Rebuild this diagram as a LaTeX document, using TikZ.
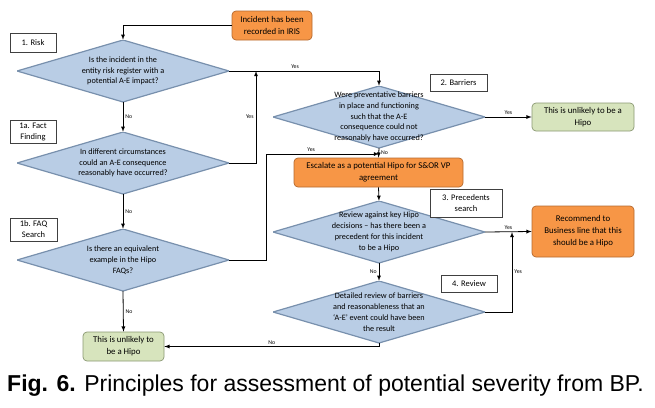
\documentclass[tikz,border=0pt]{standalone}
\usepackage{fontspec}
\setmainfont{Carlito}
\newfontfamily\capfont{Liberation Sans}
\usetikzlibrary{positioning}

\definecolor{diafill}{HTML}{B9CDE5}
\definecolor{diaedge}{HTML}{7890AD}
\definecolor{orfill}{HTML}{F79646}
\definecolor{oredge}{HTML}{B4692F}
\definecolor{grfill}{HTML}{D7E4BD}
\definecolor{gredge}{HTML}{8A9872}

\tikzset{
  dia/.style={rectangle, minimum width=212pt, minimum height=62pt, inner sep=0pt,
    align=center, font=\fontsize{8.2}{10.8}\selectfont,
    path picture={
      \fill[diafill] (path picture bounding box.north) -- (path picture bounding box.east)
        -- (path picture bounding box.south) -- (path picture bounding box.west) -- cycle;
      \draw[diaedge, line width=1.2pt] (path picture bounding box.north) -- (path picture bounding box.east)
        -- (path picture bounding box.south) -- (path picture bounding box.west) -- cycle;
    }},
  orbox/.style={rectangle, rounded corners=4pt, draw=oredge, fill=orfill, line width=0.7pt,
    align=center, inner sep=1pt, font=\fontsize{8.8}{12}\selectfont},
  grbox/.style={rectangle, rounded corners=4pt, draw=gredge, fill=grfill, line width=0.7pt,
    align=center, inner sep=1pt, font=\fontsize{8.8}{12}\selectfont},
  tag/.style={rectangle, draw=black!75, line width=0.7pt, fill=white, align=center,
    inner sep=1pt, font=\fontsize{8.5}{11}\selectfont},
  lbl/.style={font=\fontsize{5.8}{6}\selectfont, inner sep=2pt},
  arr/.style={-latex, line width=0.8pt}
}

\begin{document}
\begin{tikzpicture}[x=1pt, y=-1pt]
    \useasboundingbox (0,0) rectangle (655,407);

    % Left column
    \node[orbox, minimum width=80pt, minimum height=29pt] (iris) at (272,25.5) {Incident has been\\recorded in IRIS};
    \node[dia] (risk) at (123,71) {Is the incident in the\\entity risk register with a\\potential A-E impact?};
    \node[dia] (fact) at (123,163) {In different circumstances\\could an A-E consequence\\reasonably have occurred?};
    \node[dia] (faq) at (123,260) {Is there an equivalent\\example in the Hipo\\FAQs?};
    \node[grbox, minimum width=81pt, minimum height=29pt] (unlikelyA) at (123.5,346.5) {This is unlikely to\\be a Hipo};

    % Right column
    \node[dia] (barrier) at (379,117) {Were preventative barriers\\in place and functioning\\such that the A-E\\consequence could not\\reasonably have occurred?};
    \node[grbox, minimum width=102pt, minimum height=28pt] (unlikelyB) at (583,117) {This is unlikely to be a\\Hipo};
    \node[orbox, minimum width=169pt, minimum height=29pt] (escalate) at (378.5,172.5) {Escalate as a potential Hipo for S\&OR VP\\agreement};
    \node[dia] (precedent) at (379,232) {Review against key Hipo\\decisions -- has there been a\\precedent for this incident\\to be a Hipo};
    \node[orbox, minimum width=102pt, minimum height=51pt] (recommend) at (583,231.5) {Recommend to\\Business line that this\\should be a Hipo};
    \node[dia] (review) at (379,312) {Detailed review of barriers\\and reasonableness that an\\`A-E' event could have been\\the result};

    % Step tags
    \node[tag, minimum width=46pt, minimum height=19pt] (tRisk) at (33,42.5) {1. Risk};
    \node[tag, minimum width=46pt, minimum height=23pt] (tFact) at (33,131.5) {1a. Fact\\Finding};
    \node[tag, minimum width=47pt, minimum height=23pt] (tFaq) at (33.5,229.5) {1b. FAQ\\Search};
    \node[tag, minimum width=57pt, minimum height=17pt] (tBarrier) at (458.5,82.5) {2. Barriers};
    \node[tag, minimum width=72pt, minimum height=28pt] (tPrec) at (466,203) {3. Precedents\\search};
    \node[tag, minimum width=56pt, minimum height=17pt] (tReview) at (469,283.5) {4. Review};

    % Join points
    \coordinate (j1) at (256,71);
    \coordinate (j2) at (379,154);
    \coordinate (j3) at (512,232);

    % Connectors
    \draw[arr] (iris.west) -| (risk.north);
    \draw[arr] (risk.east) -| node[lbl, pos=0.22, above] {Yes} (barrier.north);
    \draw[arr] (risk.south) -- node[lbl, right] {No} (fact.north);
    \draw[arr] (fact.east) -| node[lbl, pos=0.75, left] {Yes} (j1);
    \draw[arr] (fact.south) -- node[lbl, right] {No} (faq.north);
    \draw[arr] (faq.south) -- node[lbl, right] {No} (unlikelyA.north);
    \draw[arr] (faq.east) -| (266,154) -- node[lbl, pos=0.4, above] {Yes} (j2);
    \draw[arr] (barrier.south) -- node[lbl, right] {No} (escalate.north);
    \draw[arr] (barrier.east) -- node[lbl, above] {Yes} (unlikelyB.west);
    \draw[arr] (escalate.south) -- (precedent.north);
    \draw[arr] (precedent.east) -- node[lbl, above] {Yes} (recommend.west);
    \draw[arr] (precedent.south) -- node[lbl, left] {No} (review.north);
    \draw[arr] (review.east) -| node[lbl, pos=0.75, right] {Yes} (j3);
    \draw[arr] (review.south) |- node[lbl, pos=0.75, above] {No} (unlikelyA.east);

    % Caption
    \node[anchor=west, inner sep=0pt, font=\capfont\fontsize{23}{26}\selectfont] (caption) at (7,386) {\textbf{Fig. 6.} Principles for assessment of potential severity from BP.};
\end{tikzpicture}
\end{document}
